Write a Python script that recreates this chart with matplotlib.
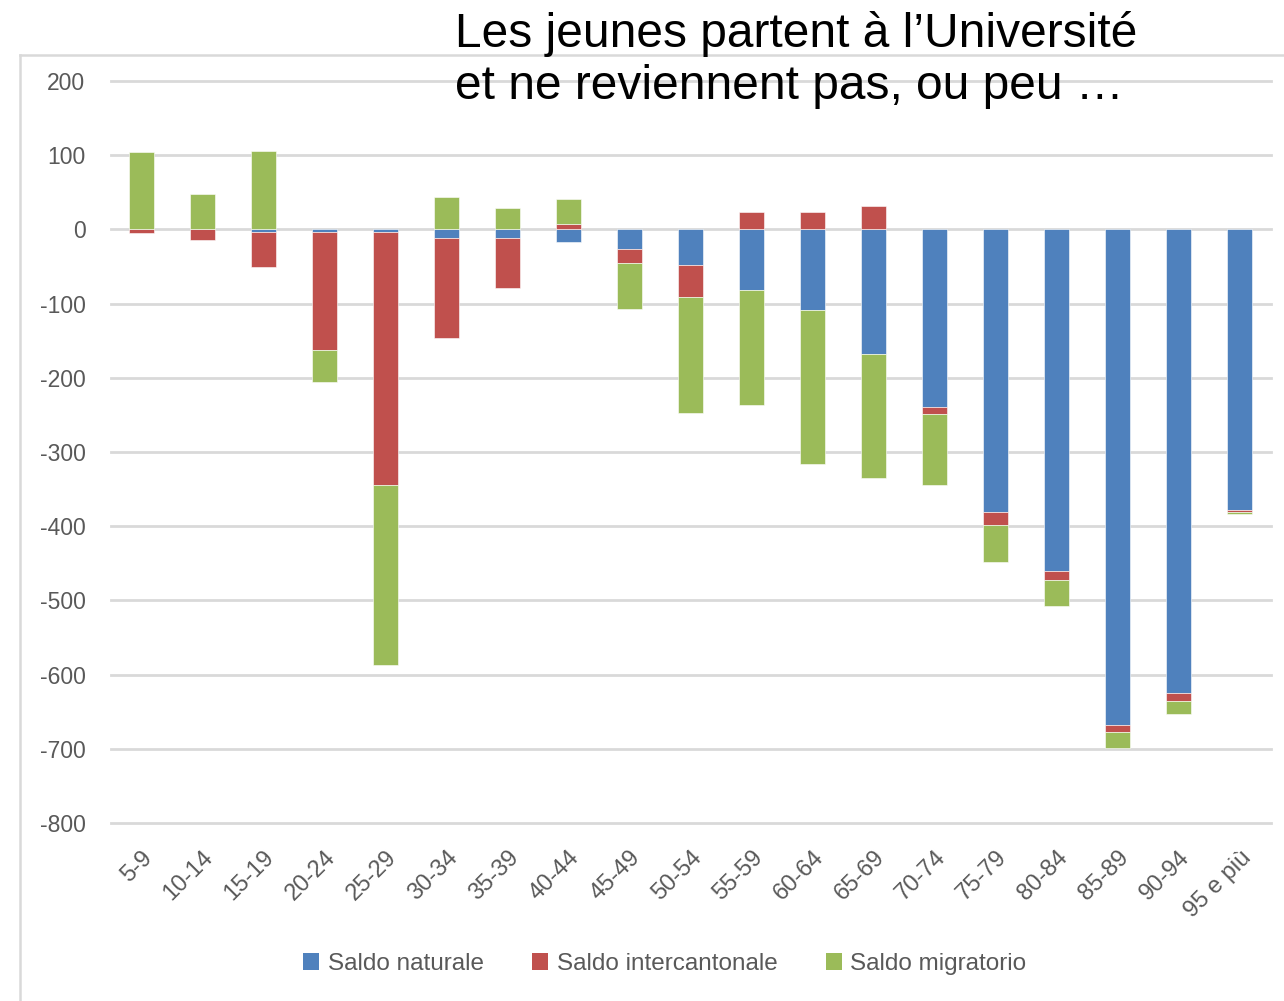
import numpy as np
import matplotlib
matplotlib.use("Agg")
import matplotlib.pyplot as plt
from matplotlib.lines import Line2D

categories = ["5-9", "10-14", "15-19", "20-24", "25-29", "30-34", "35-39", "40-44",
              "45-49", "50-54", "55-59", "60-64", "65-69", "70-74", "75-79", "80-84",
              "85-89", "90-94", "95 e più"]
saldo_naturale = [0, 0, -4, -4, -4, -11, -11, -17, -27, -48, -81, -109, -168, -239,
                  -381, -461, -668, -625, -378]
saldo_intercantonale = [-5, -14, -47, -158, -340, -135, -68, 7, -18, -43, 23, 23, 32,
                        -10, -18, -12, -10, -10, -3]
saldo_migratorio = [104, 48, 106, -43, -243, 44, 29, 34, -62, -157, -155, -207, -167,
                    -96, -49, -34, -21, -18, -3]
series_names = ["Saldo naturale", "Saldo intercantonale", "Saldo migratorio"]
series_colors = ["#4F81BD", "#C0504D", "#9BBB59"]
yticks = list(range(-800, 201, 100))
title = "Les jeunes partent à l’Université\net ne reviennent pas, ou peu …"

tick_font = "Liberation Sans"

W, H = 1284, 1001
fig = plt.figure(figsize=(W / 100, H / 100), dpi=100)
ax = fig.add_axes([110.5 / W, 1 - 823 / H, 1160 / W, 742 / H])

x = np.arange(len(categories))
pos_base = np.zeros(len(categories))
neg_base = np.zeros(len(categories))
for vals, name, col in zip([saldo_naturale, saldo_intercantonale, saldo_migratorio],
                           series_names, series_colors):
    v = np.array(vals, dtype=float)
    bottom = np.where(v >= 0, pos_base, neg_base)
    ax.bar(x, v, bottom=bottom, width=0.41, color=col, edgecolor="#FFFFFF",
           linewidth=0.4, label=name, zorder=3)
    pos_base = pos_base + np.where(v >= 0, v, 0)
    neg_base = neg_base + np.where(v < 0, v, 0)

ax.set_xlim(-0.5, len(categories) - 0.5)
ax.set_ylim(-800, 200)
ax.set_yticks(yticks)
ax.set_yticklabels([str(t) for t in yticks], fontsize=16.5, color="#595959",
                   fontname=tick_font)
ax.yaxis.grid(True, color="#D9D9D9", linewidth=2.0, zorder=0)
for gl in ax.get_ygridlines():
    gl.set_clip_on(False)
ax.set_axisbelow(True)
ax.tick_params(axis="y", length=0, pad=18)
ax.tick_params(axis="x", length=0, pad=17)
ax.set_xticks(x)
ax.set_xticklabels(categories, rotation=45, ha="right", va="top",
                   rotation_mode="anchor", fontsize=17, color="#595959",
                   fontname=tick_font)
for s in ax.spines.values():
    s.set_visible(False)

# outer chart frame
fig.add_artist(Line2D([20 / W, 1], [1 - 55 / H, 1 - 55 / H], color="#D9D9D9",
                      linewidth=1.8, transform=fig.transFigure))
fig.add_artist(Line2D([20 / W, 20 / W], [0, 1 - 55 / H], color="#D9D9D9",
                      linewidth=1.8, transform=fig.transFigure))

fig.text(455 / W, 1 - 11 / H, title, ha="left", va="top", fontsize=34.5,
         family="Liberation Sans", color="black", linespacing=1.2)

handles, labels = ax.get_legend_handles_labels()
leg = fig.legend(handles, labels, loc="center", ncol=3,
                 bbox_to_anchor=(665 / W, 1 - 964 / H), frameon=False,
                 prop={"family": tick_font, "size": 17.5},
                 handlelength=0.65, handleheight=0.65, handletextpad=0.35,
                 columnspacing=2.0)
for t in leg.get_texts():
    t.set_color("#595959")
for h in leg.legend_handles:
    h.set_linewidth(0)

fig.savefig("out.png", dpi=100)
